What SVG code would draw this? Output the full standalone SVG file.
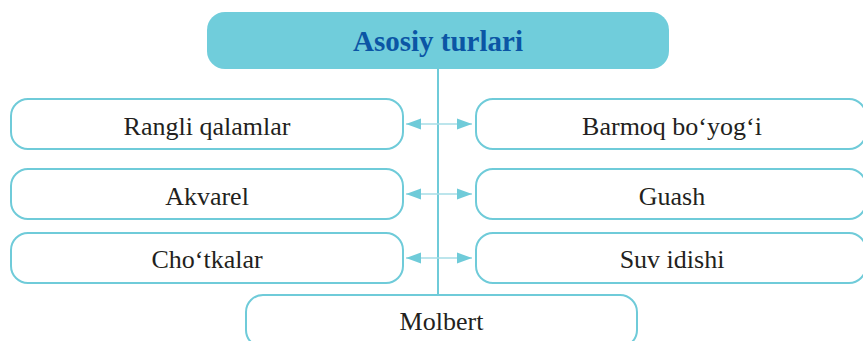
<svg xmlns="http://www.w3.org/2000/svg" width="863" height="341" viewBox="0 0 863 341">
<style>
.box{fill:#ffffff;stroke:#6fcbd9;stroke-width:2}
.lbl{font-family:"Liberation Serif","Times New Roman",serif;font-size:26px;fill:#231f20;text-anchor:middle}
.ttl{font-family:"Liberation Serif","Times New Roman",serif;font-size:29px;font-weight:bold;fill:#0b55a5;text-anchor:middle}
.arr{stroke:#a6dde6;stroke-width:1.6;fill:none}
.trunk{stroke:#6fcbd9;stroke-width:2;fill:none}
</style>
<defs>
<marker id="ah" markerWidth="15" markerHeight="12" refX="15" refY="6" orient="auto-start-reverse" markerUnits="userSpaceOnUse">
<path d="M0,0.5 L15,6 L0,11.5 Z" fill="#6fcbd9"/>
</marker>
</defs>
<rect width="863" height="341" fill="#ffffff"/>
<g id="connectors">
<line class="trunk" x1="438" y1="69" x2="438" y2="295"/>
<line class="arr" x1="406" y1="124" x2="472" y2="124" marker-start="url(#ah)" marker-end="url(#ah)"/>
<line class="arr" x1="406" y1="194" x2="472" y2="194" marker-start="url(#ah)" marker-end="url(#ah)"/>
<line class="arr" x1="406" y1="258" x2="472" y2="258" marker-start="url(#ah)" marker-end="url(#ah)"/>
</g>
<g id="title">
<rect x="207" y="12" width="462" height="57" rx="18" fill="#70cddb"/>
<text class="ttl" x="438" y="51">Asosiy turlari</text>
</g>
<g id="rangli">
<rect class="box" x="11" y="99" width="392" height="50" rx="17"/>
<text class="lbl" x="207" y="135">Rangli qalamlar</text>
</g>
<g id="barmoq">
<rect class="box" x="476" y="99" width="390" height="50" rx="17"/>
<text class="lbl" x="672" y="135">Barmoq bo‘yog‘i</text>
</g>
<g id="akvarel">
<rect class="box" x="11" y="169" width="392" height="50" rx="17"/>
<text class="lbl" x="207" y="205">Akvarel</text>
</g>
<g id="guash">
<rect class="box" x="476" y="169" width="390" height="50" rx="17"/>
<text class="lbl" x="672" y="205">Guash</text>
</g>
<g id="chotkalar">
<rect class="box" x="11" y="233" width="392" height="50" rx="17"/>
<text class="lbl" x="207" y="268">Cho‘tkalar</text>
</g>
<g id="suv">
<rect class="box" x="476" y="233" width="390" height="50" rx="17"/>
<text class="lbl" x="672" y="268">Suv idishi</text>
</g>
<g id="molbert">
<rect class="box" x="246" y="295" width="391" height="52" rx="17"/>
<text class="lbl" x="441.5" y="330">Molbert</text>
</g>
</svg>
